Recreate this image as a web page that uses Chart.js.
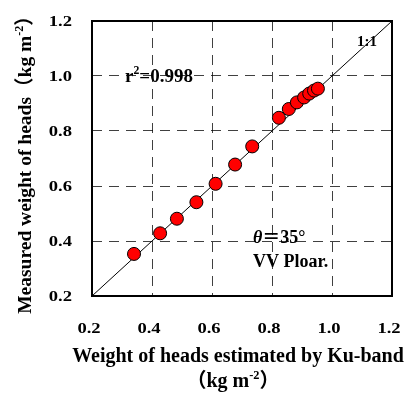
<!DOCTYPE html>
<html>
<head>
<meta charset="utf-8">
<script src="https://cdn.jsdelivr.net/npm/chart.js@4/dist/chart.umd.min.js"></script>
<style>
  html, body { margin: 0; padding: 0; background: #fff; }
  #wrap { width: 409px; height: 396px; }
</style>
</head>
<body>
<div id="wrap"><canvas id="chart" width="409" height="396"></canvas></div>
<script>
// values: Ku-band estimate (x) vs measured (y)
const estimated = [0.34, 0.427, 0.483, 0.548, 0.612, 0.677, 0.734, 0.823, 0.856, 0.883, 0.907, 0.924, 0.94, 0.953];
const measured  = [0.353, 0.428, 0.481, 0.541, 0.608, 0.678, 0.744, 0.848, 0.88, 0.904, 0.922, 0.936, 0.947, 0.954];
const oneToOne = [0.2, 1.2];
const tickValues = [0.2, 0.4, 0.6, 0.8, 1.0, 1.2];

const FONT = "'Liberation Serif', 'Times New Roman', serif";
const CJK = "'Liberation Serif', 'Noto Sans CJK SC', serif";

// draws text made of pieces, some raised as superscripts
function richText(ctx, parts, x, y, size, align) {
    let total = 0;
    const widths = parts.map(p => {
        ctx.font = (p.style || 'bold') + ' ' + (p.sup ? size * 0.62 : size) + 'px ' + CJK;
        const w = ctx.measureText(p.t).width;
        total += w;
        return w;
    });
    let cx = align === 'center' ? x - total / 2 : (align === 'right' ? x - total : x);
    ctx.textAlign = 'left';
    ctx.textBaseline = 'alphabetic';
    parts.forEach((p, i) => {
        ctx.font = (p.style || 'bold') + ' ' + (p.sup ? size * 0.62 : size) + 'px ' + CJK;
        ctx.fillText(p.t, cx, p.sup ? y - size * 0.42 : y);
        cx += widths[i];
    });
}

// tick numbers are wide in the original, so stretch them a little
function tickText(ctx, text, x, y, align) {
    ctx.save();
    ctx.translate(x, y);
    ctx.scale(1.2, 1);
    ctx.font = 'bold 15.5px ' + FONT;
    ctx.textAlign = align;
    ctx.textBaseline = 'alphabetic';
    ctx.fillText(text, 0, 0);
    ctx.restore();
}

const decorations = {
    id: 'decorations',
    afterDraw(chart) {
        const ctx = chart.ctx;
        const a = chart.chartArea;
        const xs = chart.scales.x;
        const ys = chart.scales.y;
        ctx.save();
        // frame
        ctx.strokeStyle = '#000';
        ctx.lineWidth = 2;
        ctx.setLineDash([]);
        ctx.strokeRect(a.left, a.top, a.right - a.left, a.bottom - a.top);
        ctx.fillStyle = '#000';

        // tick labels
        tickValues.forEach(v => {
            tickText(ctx, v.toFixed(1), xs.getPixelForValue(v) - 3, 333, 'center');
            tickText(ctx, v.toFixed(1), 72, ys.getPixelForValue(v) + 5, 'right');
        });

        // annotations
        richText(ctx, [{t: 'r'}, {t: '2', sup: true}, {t: '=0.998'}], 125, 82, 19, 'left');
        richText(ctx, [{t: '1:1'}], 367, 46, 15, 'center');
        richText(ctx, [{t: '\u03b8', style: 'bold italic'}, {t: '\uff1d'}, {t: '35\u00b0'}], 253, 243, 18, 'left');
        richText(ctx, [{t: 'VV Ploar.'}], 253, 267, 18, 'left');

        // x axis title
        richText(ctx, [{t: 'Weight of heads estimated by Ku-band'}], 238, 362, 20, 'center');
        richText(ctx, [{t: '\uff08kg m'}, {t: '-2', sup: true}, {t: '\uff09'}], 233, 387, 20, 'center');

        // y axis title
        ctx.translate(31, 160);
        ctx.rotate(-Math.PI / 2);
        richText(ctx, [{t: 'Measured weight of heads\uff08kg m'}, {t: '-2', sup: true}, {t: '\uff09'}], 0, 0, 19.5, 'center');
        ctx.restore();
    }
};

const gridStyle = {
    color: 'rgba(0,0,0,0.75)',
    lineWidth: 1,
    drawTicks: false
};

new Chart(document.getElementById('chart'), {
    type: 'scatter',
    data: {
        datasets: [
            {
                label: 'data',
                data: estimated.map((v, i) => ({x: v, y: measured[i]})),
                backgroundColor: '#ff0000',
                borderColor: '#000',
                borderWidth: 1,
                pointRadius: 6.5,
                order: 1
            },
            {
                label: '1:1',
                type: 'line',
                data: oneToOne.map(v => ({x: v, y: v})),
                borderColor: '#000',
                borderWidth: 1,
                pointRadius: 0,
                fill: false,
                order: 2
            }
        ]
    },
    options: {
        responsive: false,
        animation: false,
        layout: { padding: { left: 0, top: 21, right: 17, bottom: 0 } },
        plugins: {
            legend: { display: false },
            tooltip: { enabled: false }
        },
        scales: {
            x: {
                type: 'linear',
                min: 0.2,
                max: 1.2,
                afterFit: s => { s.height = 100; },
                afterBuildTicks: s => { s.ticks = tickValues.map(v => ({value: v})); },
                grid: gridStyle,
                border: { display: false, dash: [10, 7] },
                ticks: { display: false }
            },
            y: {
                type: 'linear',
                min: 0.2,
                max: 1.2,
                afterFit: s => { s.width = 92; },
                afterBuildTicks: s => { s.ticks = tickValues.map(v => ({value: v})); },
                grid: gridStyle,
                border: { display: false, dash: [10, 7] },
                ticks: { display: false }
            }
        }
    },
    plugins: [decorations]
});
</script>
</body>
</html>
